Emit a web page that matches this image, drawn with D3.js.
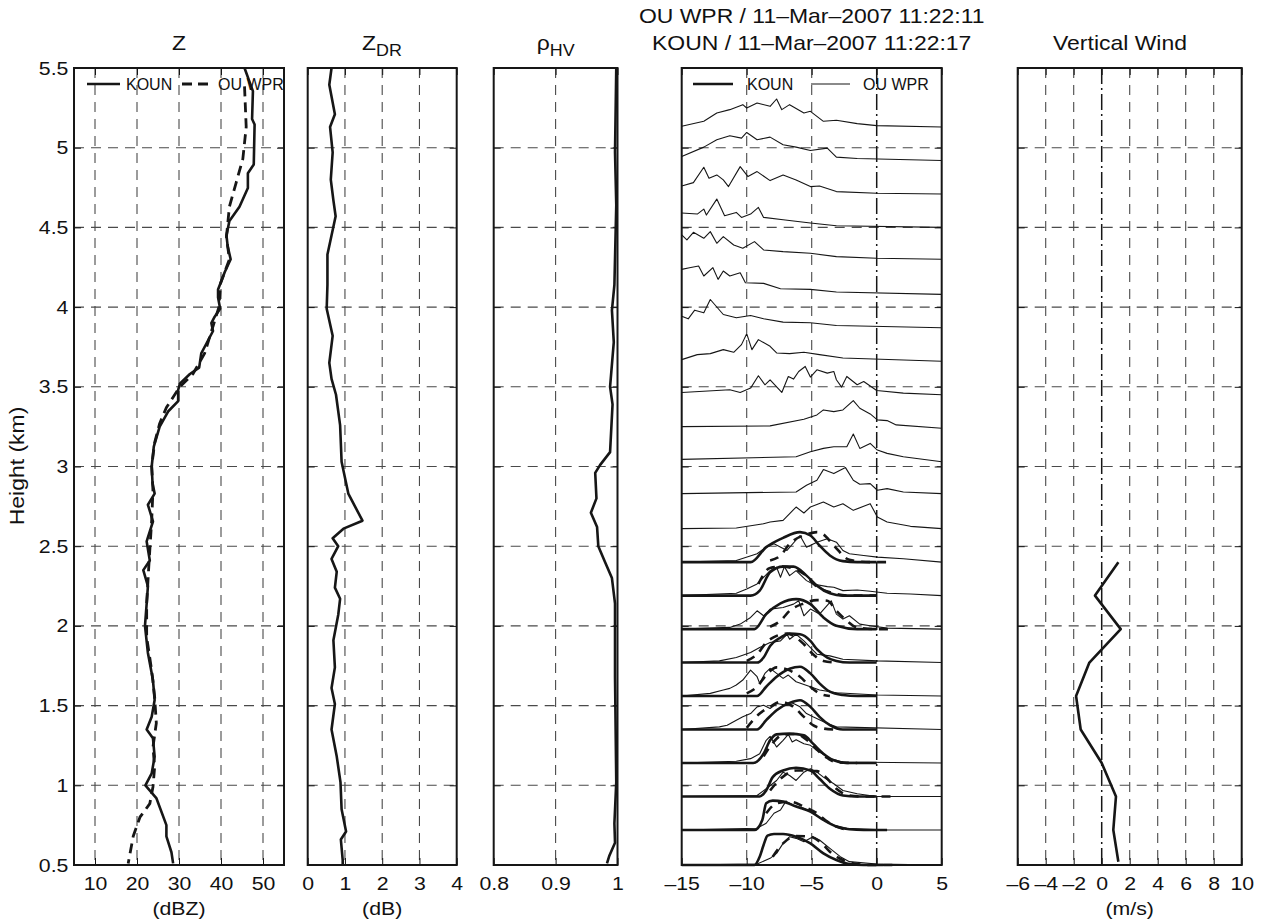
<!DOCTYPE html>
<html>
<head>
<meta charset="utf-8">
<script src="https://cdn.jsdelivr.net/npm/d3@7"></script>
<style>
body { margin: 0; background: #fff; }
svg text { font-family: "Liberation Sans", Arial, Helvetica, sans-serif; fill: #111; }
</style>
</head>
<body>
<div class="container"></div>
<script>
const WIDTH = 1265;
const HEIGHT = 923;
const TOP = 68;
const BOTTOM = 865;
const INK = '#161616';
const GRID_INK = '#4a4a4a';
const STRETCH = 'scale(1.12,1)';

// ---- data ----
var heightTicks = [0.5, 1, 1.5, 2, 2.5, 3, 3.5, 4, 4.5, 5, 5.5];
var heightTickLabels = ['0.5', '1', '1.5', '2', '2.5', '3', '3.5', '4', '4.5', '5', '5.5'];
var heightGrid = [1, 1.5, 2, 2.5, 3, 3.5, 4, 4.5, 5];

// [height km, dBZ]
var zKoun = [[5.5,45.6],[5.355,47.6],[5.18,47.4],[5.145,48.0],[4.894,47.8],[4.84,46.4],[4.747,46.4],[4.63,44.4],[4.54,42.0],[4.45,41.3],[4.38,41.6],[4.30,42.3],[4.22,40.9],[4.11,39.3],[4.06,39.3],[3.99,39.8],[3.94,38.5],[3.90,37.7],[3.85,38.1],[3.77,36.5],[3.71,35.3],[3.62,34.8],[3.58,32.6],[3.52,30.2],[3.48,29.8],[3.41,29.8],[3.345,27.4],[3.25,25.4],[3.125,24.0],[3.0,23.5],[2.895,23.7],[2.83,24.2],[2.76,22.6],[2.655,23.8],[2.53,22.3],[2.41,23.05],[2.35,21.5],[2.25,22.6],[2.14,22.3],[2.0,21.9],[1.83,22.6],[1.66,23.8],[1.535,24.2],[1.43,23.5],[1.35,22.3],[1.295,23.8],[1.18,24.2],[1.075,23.5],[1.0,22.0],[0.92,24.6],[0.75,27.0],[0.68,27.0],[0.58,28.2],[0.51,28.6]];
var zWpr = [[5.385,45.6],[5.13,46.0],[4.93,45.2],[4.78,43.6],[4.63,42.0],[4.44,41.3],[4.30,42.0],[4.15,39.9],[4.0,39.5],[3.88,38.1],[3.71,36.1],[3.58,33.3],[3.50,30.2],[3.37,27.0],[3.27,25.4],[3.15,24.2],[3.0,23.5],[2.85,23.8],[2.665,23.5],[2.37,22.8],[2.14,22.3],[1.93,22.3],[1.72,23.5],[1.555,24.2],[1.39,24.6],[1.24,23.8],[1.115,24.2],[0.99,23.8],[0.885,23.05],[0.80,20.7],[0.68,19.1],[0.51,17.9]];

// [height km, dB]
var zdrKoun = [[5.5,0.64],[5.395,0.58],[5.21,0.73],[5.13,0.60],[4.97,0.67],[4.80,0.62],[4.67,0.69],[4.57,0.75],[4.33,0.53],[4.14,0.53],[3.99,0.51],[3.82,0.67],[3.65,0.58],[3.55,0.64],[3.45,0.76],[3.26,0.87],[3.03,0.91],[2.83,1.09],[2.66,1.47],[2.61,0.96],[2.55,0.67],[2.50,0.82],[2.42,0.64],[2.34,0.78],[2.24,0.73],[2.17,0.87],[2.07,0.82],[1.91,0.69],[1.74,0.73],[1.61,0.64],[1.51,0.73],[1.35,0.64],[1.18,0.78],[1.02,0.88],[0.85,0.91],[0.71,1.03],[0.66,0.89],[0.53,0.94],[0.5,0.94]];

// [height km, rho_hv]
var rhoKoun = [[5.5,0.998],[4.97,0.996],[4.64,0.998],[4.14,0.995],[3.98,0.991],[3.78,0.994],[3.50,0.988],[3.39,0.992],[3.09,0.988],[3.01,0.972],[2.96,0.964],[2.80,0.966],[2.71,0.957],[2.62,0.967],[2.50,0.969],[2.40,0.980],[2.30,0.991],[2.14,0.996],[1.68,0.996],[1.02,0.998],[0.76,0.995],[0.64,0.996],[0.56,0.987],[0.51,0.983]];

// vertical wind, m/s
var wHeights = [0.52, 0.72, 0.93, 1.14, 1.35, 1.56, 1.77, 1.98, 2.19, 2.40];
var wKoun = [1.19, 0.83, 1.02, 0.0, -1.5, -1.83, -0.88, 1.36, -0.48, 1.19];

// spectra: base heights (km) and [velocity m/s, normalised power]
var specHeights = [0.5, 0.72, 0.93, 1.14, 1.35, 1.56, 1.77, 1.98, 2.19, 2.40, 2.61, 2.83, 3.03, 3.24, 3.45, 3.66, 3.87, 4.08, 4.30, 4.50, 4.71, 4.92, 5.13];

var wprSpectra = [
  [[-15,0],[-9.2,0.03],[-8.2,0.2],[-7.7,0.35],[-7.2,0.65],[-6.7,0.85],[-6.2,0.8],[-5.6,0.7],[-4.9,0.85],[-4.4,0.75],[-3.6,0.5],[-2.8,0.25],[-2.1,0.1],[0,0.03],[5,0]],
  [[-15,0],[-9.2,0.05],[-8.5,0.2],[-7.9,0.5],[-7.4,0.6],[-7.0,0.85],[-6.4,0.75],[-5.6,0.65],[-4.9,0.5],[-4.1,0.3],[-3.3,0.15],[-2.3,0.05],[0.8,0],[5,0]],
  [[-15,0],[-9.2,0.03],[-8.5,0.23],[-7.7,0.48],[-7.2,0.73],[-6.7,0.63],[-6.2,0.48],[-5.6,0.73],[-5.1,0.83],[-4.6,0.73],[-4.1,0.58],[-3.3,0.38],[-2.6,0.18],[-1.5,0.08],[0,0],[5,0]],
  [[-15,0],[-10.8,0.05],[-9.7,0.13],[-9.0,0.28],[-8.5,0.68],[-8.2,0.8],[-7.7,0.48],[-7.2,0.68],[-6.8,0.86],[-6.5,0.63],[-6.2,0.7],[-5.6,0.58],[-5.1,0.53],[-4.4,0.33],[-3.6,0.13],[-2.6,0.03],[5,0]],
  [[-15,0],[-12.1,0.08],[-11.5,0.13],[-10.8,0.28],[-10.3,0.38],[-9.7,0.48],[-9.2,0.68],[-8.7,0.73],[-8.2,0.63],[-7.7,0.78],[-6.9,0.73],[-6.4,0.78],[-5.9,0.68],[-5.4,0.48],[-4.9,0.38],[-3.8,0.18],[-3.1,0.08],[5,0]],
  [[-15,0],[-12.8,0.08],[-11.8,0.18],[-11.3,0.23],[-10.8,0.33],[-10.3,0.48],[-9.7,0.78],[-9.2,0.58],[-9.0,0.38],[-8.6,0.68],[-8.2,0.83],[-7.7,0.68],[-7.2,0.53],[-6.8,0.63],[-6.2,0.43],[-5.1,0.28],[-4.4,0.18],[-3.1,0.1],[0.05,0.03],[5,0]],
  [[-15,0],[-12.1,0.05],[-10.8,0.15],[-9.7,0.3],[-9.0,0.45],[-8.2,0.6],[-7.4,0.65],[-6.9,0.85],[-6.7,0.7],[-6.2,0.85],[-5.6,0.65],[-5.1,0.45],[-4.6,0.25],[-3.6,0.2],[-2.6,0.1],[0.05,0.05],[5,0]],
  [[-15,0],[-11.3,0.05],[-10.5,0.15],[-9.7,0.35],[-9.2,0.55],[-8.7,0.4],[-8.2,0.6],[-7.2,0.65],[-6.4,0.75],[-6.0,0.85],[-5.6,0.4],[-5.1,0.6],[-4.4,0.45],[-3.5,0.85],[-3.1,0.45],[-2.6,0.3],[-2.1,0.4],[-1.3,0.15],[-0.5,0.1],[0.8,0.03],[5,0]],
  [[-15,0],[-10.8,0.07],[-10.0,0.2],[-9.2,0.35],[-8.2,0.75],[-7.7,0.85],[-7.4,0.55],[-7.1,0.87],[-6.7,0.6],[-6.2,0.75],[-5.8,0.6],[-5.4,0.45],[-4.9,0.35],[-3.8,0.27],[-3.3,0.25],[-2.6,0.15],[-1.5,0.17],[-0.5,0.13],[0.8,0.07],[2.6,0.05],[5,0]],
  [[-15,0],[-10.8,0.05],[-9.2,0.25],[-8.5,0.45],[-7.9,0.55],[-6.9,0.35],[-5.9,0.8],[-5.4,0.45],[-4.6,0.6],[-3.8,0.7],[-3.1,0.6],[-2.6,0.35],[-2.1,0.25],[-1.0,0.2],[0.05,0.15],[2.05,0.1],[5,0]],
  [[-15,0],[-10.8,0.02],[-8.7,0.15],[-8.2,0.2],[-7.2,0.25],[-6.2,0.65],[-5.6,0.47],[-5.1,0.65],[-4.1,0.8],[-3.3,0.65],[-2.6,0.75],[-1.8,0.55],[-1.0,0.67],[-0.5,0.75],[0.05,0.35],[0.8,0.2],[2.6,0.07],[5,0]],
  [[-15,0],[-6.2,0.05],[-5.4,0.25],[-4.6,0.4],[-4.1,0.72],[-3.3,0.6],[-2.4,0.78],[-1.8,0.4],[-1.3,0.28],[-0.5,0.3],[0.05,0.1],[0.8,0.15],[2.05,0.05],[5,0]],
  [[-15,0.07],[-6.2,0.15],[-5.1,0.3],[-4.1,0.4],[-3.3,0.45],[-2.3,0.45],[-1.8,0.83],[-1.3,0.4],[-0.5,0.55],[0.05,0.35],[0.8,0.25],[2.05,0.15],[5,0]],
  [[-15,0.05],[-8.2,0.07],[-5.6,0.27],[-4.6,0.4],[-4.1,0.55],[-3.3,0.5],[-2.6,0.55],[-1.8,0.83],[-1.3,0.6],[-0.5,0.43],[0.05,0.25],[0.8,0.23],[1.5,0.1],[5,0]],
  [[-15,0.07],[-11.3,0.15],[-10.5,0.07],[-9.7,0.2],[-9.1,0.57],[-8.6,0.3],[-8.2,0.45],[-7.3,0.07],[-6.8,0.55],[-6.4,0.47],[-6.0,0.7],[-5.5,0.85],[-5.1,0.53],[-4.6,0.75],[-3.8,0.65],[-3.3,0.7],[-3.1,0.45],[-2.7,0.23],[-2.3,0.55],[-1.5,0.3],[-1.0,0.4],[0,0.13],[2.05,0.05],[5,0]],
  [[-15,0.05],[-13.8,0.2],[-12.8,0.23],[-11.8,0.35],[-11.0,0.27],[-10.4,0.5],[-10.0,0.83],[-9.6,0.35],[-9.1,0.65],[-8.2,0.45],[-7.7,0.25],[-6.7,0.23],[-5.6,0.27],[-4.4,0.2],[-2.6,0.1],[5,0]],
  [[-15,0.35],[-14.5,0.27],[-14.0,0.53],[-13.3,0.45],[-12.8,0.85],[-11.8,0.4],[-10.8,0.3],[-9.7,0.37],[-8.7,0.27],[-7.2,0.17],[-5.1,0.15],[-3.1,0.07],[5,0]],
  [[-15,0.75],[-14.4,0.8],[-13.7,0.85],[-13.3,0.55],[-12.6,0.8],[-12.2,0.45],[-11.8,0.7],[-11.3,0.55],[-10.5,0.65],[-10.1,0.35],[-8.7,0.33],[-7.4,0.17],[-5.1,0.15],[-3.1,0.07],[5,0]],
  [[-15,0.73],[-14.6,0.58],[-14.1,0.81],[-13.3,0.63],[-12.8,0.83],[-12.3,0.48],[-11.8,0.68],[-11.0,0.43],[-10.3,0.33],[-9.4,0.53],[-8.7,0.28],[-7.2,0.23],[-5.1,0.18],[-3.1,0.08],[0,0.03],[5,0]],
  [[-15,0.43],[-13.8,0.4],[-13.3,0.55],[-13.1,0.37],[-12.3,0.85],[-11.7,0.35],[-10.8,0.45],[-10.4,0.3],[-9.7,0.4],[-9.1,0.6],[-8.7,0.3],[-7.2,0.23],[-5.1,0.13],[-3.1,0.05],[5,0]],
  [[-15,0.24],[-14.1,0.34],[-13.3,0.8],[-12.9,0.47],[-12.3,0.57],[-11.8,0.42],[-11.4,0.22],[-10.5,0.82],[-9.9,0.52],[-9.2,0.67],[-8.2,0.4],[-7.2,0.57],[-6.2,0.42],[-5.1,0.22],[-4.4,0.24],[-3.1,0.07],[0,0.02],[5,0]],
  [[-15,0.12],[-13.3,0.4],[-12.3,0.62],[-11.3,0.74],[-10.4,0.67],[-10.0,0.84],[-9.2,0.62],[-8.2,0.7],[-7.2,0.47],[-6.2,0.4],[-5.1,0.3],[-3.8,0.37],[-3.1,0.1],[-1.5,0.06],[5,0]],
  [[-15,0.02],[-13.3,0.17],[-12.3,0.42],[-11.3,0.52],[-10.3,0.67],[-10.0,0.57],[-9.2,0.72],[-8.2,0.62],[-7.7,0.84],[-7.3,0.52],[-6.7,0.67],[-5.6,0.42],[-5.1,0.47],[-4.1,0.17],[-3.1,0.2],[-1.5,0.1],[0,0.04],[5,0]]
];

var kounSpectra = [
  [[-15,0],[-9.4,0],[-9.0,0.25],[-8.7,0.6],[-8.4,0.88],[-7.9,0.93],[-7.2,0.93],[-6.2,0.85],[-5.1,0.65],[-4.1,0.35],[-3.1,0.15],[-2.1,0.03],[-1.0,0],[0.5,0]],
  [[-15,0],[-9.4,0],[-8.8,0.3],[-8.5,0.8],[-8.0,0.88],[-7.2,0.85],[-6.2,0.7],[-5.1,0.55],[-4.1,0.3],[-3.1,0.1],[-2.1,0.02],[-1.0,0],[0.8,0]],
  [[-15,0],[-9.0,0],[-8.5,0.18],[-8.0,0.58],[-7.2,0.78],[-6.2,0.86],[-5.1,0.78],[-4.4,0.53],[-3.6,0.23],[-2.6,0.03],[-1.5,0],[0,0]],
  [[-15,0],[-9.5,0],[-8.7,0.28],[-8.2,0.68],[-7.7,0.86],[-6.7,0.88],[-5.6,0.83],[-4.9,0.58],[-4.1,0.28],[-3.3,0.08],[-2.3,0],[0,0]],
  [[-15,0],[-9.2,0],[-8.5,0.28],[-7.7,0.58],[-6.7,0.8],[-5.9,0.88],[-5.1,0.68],[-4.4,0.38],[-3.6,0.13],[-2.6,0],[0,0]],
  [[-15,0],[-9.2,0],[-8.5,0.28],[-7.7,0.58],[-6.7,0.82],[-5.9,0.88],[-5.1,0.68],[-4.4,0.38],[-3.6,0.13],[-2.6,0.03],[-1.5,0],[0,0]],
  [[-15,0],[-9.2,0],[-8.7,0.15],[-8.2,0.5],[-7.4,0.75],[-6.7,0.87],[-5.9,0.85],[-5.1,0.65],[-4.6,0.4],[-3.8,0.15],[-3.1,0.05],[-2.1,0],[0,0]],
  [[-15,0],[-9.4,0],[-8.5,0.45],[-7.4,0.77],[-6.2,0.9],[-5.1,0.75],[-4.1,0.35],[-3.1,0.1],[-1.5,0],[0,0]],
  [[-15,0],[-9.7,0],[-9.0,0.15],[-8.2,0.7],[-7.2,0.87],[-6.4,0.87],[-5.4,0.6],[-4.6,0.3],[-3.6,0.07],[-2.6,0],[0,0]],
  [[-15,0],[-9.7,0],[-8.5,0.45],[-7.2,0.73],[-5.9,0.9],[-5.1,0.8],[-4.4,0.5],[-3.6,0.2],[-2.6,0.03],[-1.5,0],[0,0]]
];

var kounShifted = [
  [[-8.0,0.25],[-7.2,0.65],[-6.2,0.87],[-5.1,0.85],[-4.1,0.6],[-3.6,0.4],[-2.6,0.15],[-1.5,0.03],[-0.5,0],[1.2,0]],
  [[-8.5,0.5],[-7.7,0.8],[-6.7,0.85],[-5.6,0.7],[-4.6,0.5],[-3.8,0.25],[-3.1,0.1],[-2.1,0]],
  [[-8.2,0.18],[-7.4,0.53],[-6.2,0.78],[-4.6,0.76],[-3.8,0.53],[-3.1,0.23],[-2.1,0.03],[-1.0,0],[1.2,0]],
  [[-8.7,0.2],[-8.0,0.6],[-7.2,0.85],[-6.2,0.87],[-5.4,0.7],[-4.6,0.4],[-3.8,0.15],[-3.1,0.02],[-1.5,0]],
  [[-10.0,0.05],[-9.0,0.48],[-8.2,0.68],[-7.4,0.83],[-6.4,0.68],[-5.6,0.38],[-4.9,0.13],[-4.1,0.03],[-3.3,0]],
  [[-10.0,0.08],[-9.2,0.28],[-8.5,0.63],[-7.7,0.86],[-6.9,0.8],[-5.9,0.58],[-5.1,0.28],[-4.4,0.08],[-3.6,0]],
  [[-10.0,0.05],[-9.2,0.25],[-8.5,0.6],[-7.7,0.8],[-6.9,0.87],[-5.6,0.55],[-4.9,0.25],[-4.1,0.05],[-3.1,0]],
  [[-8.2,0.07],[-7.4,0.25],[-6.7,0.55],[-5.6,0.77],[-4.6,0.87],[-3.8,0.85],[-3.1,0.55],[-2.3,0.25],[-1.5,0.05],[0.05,0],[1.2,0]],
  [[-9.1,0.35],[-8.2,0.83],[-7.2,0.87],[-5.6,0.65],[-4.6,0.27],[-3.6,0.1],[-2.1,0],[0,0]],
  [[-8.2,0.05],[-7.4,0.2],[-6.7,0.55],[-5.4,0.83],[-4.6,0.9],[-4.1,0.83],[-3.3,0.5],[-2.1,0.07],[-0.5,0],[1.2,0]]
];

// ---- panel layout ----
var _panels = [
    {left: 74, right: 284, domain: [5, 55], ticks: [10, 20, 30, 40, 50], labels: ['10', '20', '30', '40', '50'], grid: [10, 20, 30, 40, 50], unit: '(dBZ)', yLabels: true},
    {left: 307.7, right: 456.7, domain: [0, 4], ticks: [0, 1, 2, 3, 4], labels: ['0', '1', '2', '3', '4'], grid: [1, 2, 3], unit: '(dB)'},
    {left: 493.7, right: 617.5, domain: [0.8, 1], ticks: [0.8, 0.9, 1], labels: ['0.8', '0.9', '1'], grid: [0.9]},
    {left: 681.7, right: 941.7, domain: [-15, 5], ticks: [-15, -10, -5, 0, 5], labels: ['\u201315', '\u201310', '\u20135', '0', '5'], grid: [-10, -5], zero: true},
    {left: 1017.7, right: 1241.7, domain: [-6, 10], ticks: [-6, -4, -2, 0, 2, 4, 6, 8, 10], labels: ['\u20136', '\u20134', '\u20132', '0', '2', '4', '6', '8', '10'], grid: [-4, -2, 2, 4, 6, 8], zero: true, unit: '(m/s)'}
];

var _svg;
var _y = d3.scaleLinear().domain([0.5, 5.5]).range([BOTTOM, TOP]);

var translate = function (x, y) {
    return 'translate(' + x + ',' + y + ')';
};

var styleAxis = function (g) {
    g.select('.domain').remove();
    g.attr('font-family', null).attr('font-size', 19).attr('color', INK);
    g.selectAll('text').attr('transform', STRETCH);
    g.selectAll('line').attr('stroke-width', 1);
};

var drawFrame = function (p) {
    var x = d3.scaleLinear().domain(p.domain).range([p.left, p.right]);
    var g = _svg.append('g');

    g.selectAll('.vgrid').data(p.grid).enter().append('line')
        .attr('class', 'vgrid')
        .attr('x1', x).attr('x2', x)
        .attr('y1', TOP).attr('y2', BOTTOM)
        .attr('stroke', GRID_INK).attr('stroke-width', 1.1)
        .attr('stroke-dasharray', '10,7');

    g.selectAll('.hgrid').data(heightGrid).enter().append('line')
        .attr('class', 'hgrid')
        .attr('x1', p.left).attr('x2', p.right)
        .attr('y1', _y).attr('y2', _y)
        .attr('stroke', GRID_INK).attr('stroke-width', 1.1)
        .attr('stroke-dasharray', '10,7');

    if (p.zero) {
        g.append('line')
            .attr('x1', x(0)).attr('x2', x(0))
            .attr('y1', TOP).attr('y2', BOTTOM)
            .attr('stroke', INK).attr('stroke-width', 1.5)
            .attr('stroke-dasharray', '16,4,2,4');
    }

    g.append('g').attr('transform', translate(0, BOTTOM))
        .call(d3.axisBottom(x).tickValues(p.ticks).tickSize(-7).tickPadding(12)
            .tickFormat(function (d, i) { return p.labels[i]; }))
        .call(styleAxis);
    g.append('g').attr('transform', translate(0, TOP))
        .call(d3.axisTop(x).tickValues(p.ticks).tickSize(-7).tickFormat(''))
        .call(styleAxis);
    g.append('g').attr('transform', translate(p.left, 0))
        .call(d3.axisLeft(_y).tickValues(heightTicks).tickSize(-7).tickPadding(5)
            .tickFormat(function (d, i) { return p.yLabels ? heightTickLabels[i] : ''; }))
        .call(styleAxis);
    g.append('g').attr('transform', translate(p.right, 0))
        .call(d3.axisRight(_y).tickValues(heightTicks).tickSize(-7).tickFormat(''))
        .call(styleAxis);

    g.append('rect')
        .attr('x', p.left).attr('y', TOP)
        .attr('width', p.right - p.left).attr('height', BOTTOM - TOP)
        .attr('fill', 'none').attr('stroke', INK).attr('stroke-width', 2);

    if (p.unit) {
        _svg.append('text')
            .attr('transform', translate((p.left + p.right) / 2, 915) + ' ' + STRETCH)
            .attr('text-anchor', 'middle').attr('font-size', 19)
            .text(p.unit);
    }
    return x;
};

var drawProfile = function (x, data, width, dash) {
    var line = d3.line()
        .x(function (d) { return x(d[1]); })
        .y(function (d) { return _y(d[0]); });
    _svg.append('path')
        .datum(data)
        .attr('d', line)
        .attr('fill', 'none').attr('stroke', INK)
        .attr('stroke-width', width)
        .attr('stroke-linejoin', 'round')
        .attr('stroke-dasharray', dash || null);
};

var drawTitle = function (cx, y, main, sub) {
    var t = _svg.append('text')
        .attr('transform', translate(cx, y) + ' ' + STRETCH)
        .attr('text-anchor', 'middle').attr('font-size', 20.5);
    t.append('tspan').text(main);
    if (sub) {
        t.append('tspan').attr('font-size', 16).attr('dy', 6).text(sub);
    }
};

var drawSpectra = function (x) {
    var amp = d3.scaleLinear().domain([0, 1]).range([0, 0.209]);
    var spectrumLine = function (h, curve) {
        return d3.line()
            .x(function (d) { return x(d[0]); })
            .y(function (d) { return _y(h + amp(d[1])); })
            .curve(curve);
    };
    var g = _svg.append('g').attr('fill', 'none').attr('stroke', INK);

    wprSpectra.forEach(function (s, i) {
        g.append('path').datum(s)
            .attr('d', spectrumLine(specHeights[i], d3.curveLinear))
            .attr('stroke-width', 1.1).attr('stroke-linejoin', 'round');
    });
    kounShifted.forEach(function (s, i) {
        g.append('path').datum(s)
            .attr('d', spectrumLine(specHeights[i], d3.curveMonotoneX))
            .attr('stroke-width', 2.6).attr('stroke-dasharray', '9,7');
    });
    kounSpectra.forEach(function (s, i) {
        g.append('path').datum(s)
            .attr('d', spectrumLine(specHeights[i], d3.curveMonotoneX))
            .attr('stroke-width', 2.6).attr('stroke-linejoin', 'round');
    });
};

var drawLegendEntry = function (x1, x2, y, width, dash, label, tx) {
    _svg.append('line')
        .attr('x1', x1).attr('x2', x2).attr('y1', y).attr('y2', y)
        .attr('stroke', INK).attr('stroke-width', width)
        .attr('stroke-dasharray', dash || null);
    _svg.append('text')
        .attr('x', tx).attr('y', y + 6)
        .attr('font-size', 16)
        .text(label);
};

var drawChart = function () {
    _svg = d3.select('.container').append('svg')
        .attr('width', WIDTH).attr('height', HEIGHT);
    _svg.append('rect').attr('width', WIDTH).attr('height', HEIGHT).attr('fill', '#fff');

    var xs = _panels.map(drawFrame);

    drawProfile(xs[0], zWpr, 2.8, '10,6');
    drawProfile(xs[0], zKoun, 2.6);
    drawProfile(xs[1], zdrKoun, 2.6);
    drawProfile(xs[2], rhoKoun, 2.6);
    drawProfile(xs[4], d3.zip(wHeights, wKoun), 2.6);
    drawSpectra(xs[3]);

    drawLegendEntry(87, 120, 84, 2.6, null, 'KOUN', 126);
    drawLegendEntry(182, 214, 84, 2.8, '10,6', 'OU WPR', 218);
    drawLegendEntry(693, 733, 84, 2.6, null, 'KOUN', 747);
    drawLegendEntry(811, 850, 84, 1.1, null, 'OU WPR', 863);

    drawTitle(179, 50, 'Z');
    drawTitle(382, 50, 'Z', 'DR');
    drawTitle(555.6, 50, '\u03c1', 'HV');
    drawTitle(811.7, 23, 'OU WPR / 11\u2013Mar\u20132007 11:22:11');
    drawTitle(811.7, 50, 'KOUN / 11\u2013Mar\u20132007 11:22:17');
    drawTitle(1120, 50, 'Vertical Wind');

    _svg.append('text')
        .attr('transform', translate(24, 466) + ' rotate(-90) scale(1.12,1)')
        .attr('text-anchor', 'middle').attr('font-size', 20.5)
        .text('Height (km)');
};

window.onload = drawChart;
</script>
</body>
</html>
